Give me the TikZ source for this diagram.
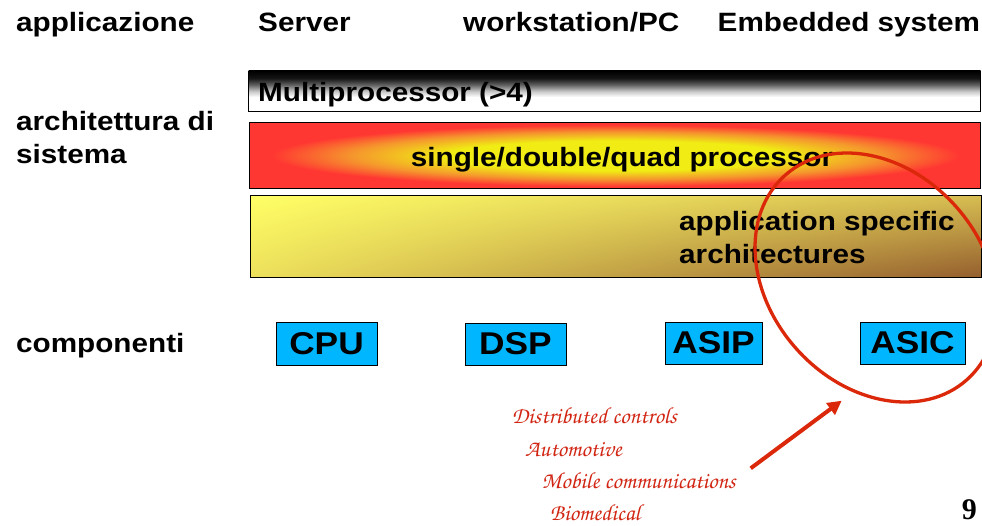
\documentclass[tikz,border=0pt]{standalone}
\usepackage[T1,TU]{fontenc}
\usepackage{fontspec}
\newfontfamily\lab{Liberation Sans}[FakeStretch=1.12]
\newfontfamily\numfont{Liberation Serif}
\newcommand\myscript{\fontencoding{T1}\fontfamily{pzc}\fontseries{mb}\fontshape{it}\selectfont}
\usetikzlibrary{arrows.meta}
\definecolor{boxblue}{RGB}{0,183,255}
\definecolor{redline}{RGB}{220,40,10}
\definecolor{scriptred}{RGB}{210,38,20}
\definecolor{pyellow}{RGB}{240,236,20}
\definecolor{porange}{RGB}{245,150,45}
\definecolor{pred}{RGB}{255,55,50}
\pgfdeclareradialshading{procshade}{\pgfpoint{0bp}{0bp}}{color(0bp)=(pyellow); color(11.5bp)=(pyellow); color(18bp)=(porange); color(23.5bp)=(pred); color(50bp)=(pred)}
\pgfdeclareverticalshading{mpshade}{100bp}{color(0bp)=(white); color(43bp)=(white); color(50bp)=(black!22); color(58bp)=(black!62); color(66bp)=(black!92); color(75bp)=(black); color(100bp)=(black)}
\pgfdeclarefunctionalshading{appshade}{\pgfpoint{-50bp}{-50bp}}{\pgfpoint{50bp}{50bp}}{}{
  25 exch sub 50 div
  exch 25 add 50 div
  exch
  2 copy mul
  2 index -0.16 mul 2 index -0.07 mul add 1 index -0.19 mul add 1.0 add
  3 index -0.26 mul 3 index -0.12 mul add 2 index -0.25 mul add 1.0 add
  4 index -0.08 mul 4 index -0.04 mul add 3 index -0.10 mul add 0.40 add
  6 3 roll pop pop pop
}
\tikzset{
  lbl/.style={font=\lab\bfseries\fontsize{26.5}{30}\selectfont, inner sep=0pt, anchor=base west},
  comp/.style={draw=black, line width=0.8pt, fill=boxblue, inner sep=0pt,
    font=\lab\bfseries\fontsize{31.5}{34}\selectfont},
  scr/.style={text=scriptred, font=\myscript\fontsize{23.2}{26}\selectfont, inner sep=0pt, anchor=base west},
  barbox/.style={draw=black, line width=0.8pt, inner sep=0pt},
  redstroke/.style={draw=redline, line width=3.3pt},
}
\begin{document}
\begin{tikzpicture}[x=1pt,y=1pt]
\useasboundingbox[fill=white] (0,0) rectangle (982,-525);
% top labels
\node[lbl] (app) at (16,-31.7) {applicazione};
\node[lbl] (srv) at (258,-31.7) {Server};
\node[lbl] (ws) at (463,-31.7) {workstation/PC};
\node[lbl] (emb) at (717.5,-31.7) {Embedded system};
% left labels
\node[lbl] (arch1) at (16,-130) {architettura di};
\node[lbl] (arch2) at (16,-163) {sistema};
\node[lbl] (compl) at (16,-352.7) {componenti};
% bars
\node[barbox, shade, shading=mpshade, minimum width=732pt, minimum height=40.7pt] (mpbar) at (614.5,-91.3) {};
\node[barbox, shade, shading=procshade, minimum width=731pt, minimum height=65.6pt] (prbar) at (615.3,-155.5) {};
\node[barbox, shade, shading=appshade, minimum width=731pt, minimum height=81.6pt] (asbar) at (615.7,-236.5) {};
\node[lbl] (mptxt) at (258,-101.7) {Multiprocessor (>4)};
\node[lbl] (prtxt) at (410.7,-166) {single/double/quad processor};
\node[lbl] (as1) at (679,-230.7) {application specific};
\node[lbl] (as2) at (679,-263.3) {architectures};
% components
\node[comp, minimum width=101pt, minimum height=43pt] (cpu) at (326.5,-343.5) {CPU};
\node[comp, minimum width=101pt, minimum height=42pt] (dsp) at (515.5,-344) {DSP};
\node[comp, minimum width=97pt, minimum height=42pt] (asip) at (713.5,-343) {ASIP};
\node[comp, minimum width=105pt, minimum height=42pt] (asic) at (912.5,-343) {ASIC};
% ellipse
\draw[redstroke, rotate around={-48.4:(876,-277.5)}] (876,-277.5) ellipse [x radius=136.8pt, y radius=106.9pt];
% arrow
\coordinate (atail) at (750.7,-468.3);
\coordinate (atip) at (841.7,-400.7);
\draw[redstroke, line width=4pt, -{Triangle[length=14pt,width=14pt]}] (atail) -- (atip);
% script texts
\node[scr] (t1) at (511.7,-423) {Distributed controls};
\node[scr] (t2) at (525,-456) {Automotive};
\node[scr] (t3) at (541.7,-488) {Mobile communications};
\node[scr] (t4) at (550,-520) {Biomedical};
% page number
\node[font=\numfont\bfseries\fontsize{30}{32}\selectfont, anchor=base east, inner sep=0pt] (pg) at (977,-519.5) {9};
\end{tikzpicture}
\end{document}
